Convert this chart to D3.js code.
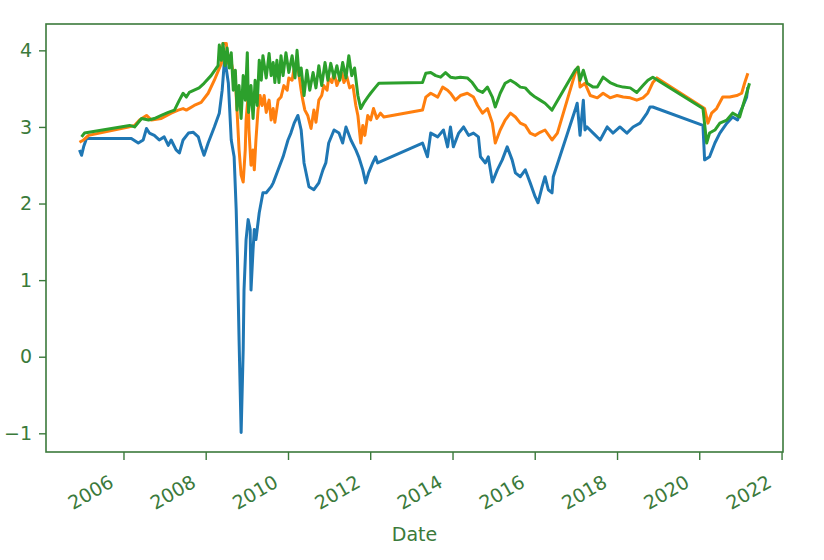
<!DOCTYPE html>
<html>
<head>
<meta charset="utf-8">
<script src="https://cdn.jsdelivr.net/npm/d3@7"></script>
<style>
  body { margin: 0; background: #fff; }
  text { font-family: "DejaVu Sans", sans-serif; }
</style>
</head>
<body>
<div id="chart"></div>
<script>
// values: [decimal year, value]
const blue = [
  [2004.93, 2.70], [2004.98, 2.63], [2005.03, 2.74], [2005.10, 2.85], [2006.19, 2.85],
  [2006.36, 2.79], [2006.48, 2.83], [2006.56, 2.98], [2006.63, 2.92], [2006.75, 2.89],
  [2006.87, 2.83], [2006.99, 2.87], [2007.09, 2.76], [2007.16, 2.83], [2007.28, 2.70],
  [2007.36, 2.66], [2007.45, 2.83], [2007.58, 2.92], [2007.70, 2.93], [2007.82, 2.87],
  [2007.89, 2.74], [2007.96, 2.63], [2008.06, 2.79], [2008.21, 3.00], [2008.33, 3.18],
  [2008.40, 3.48], [2008.45, 3.83], [2008.47, 3.87], [2008.55, 3.57], [2008.62, 2.83],
  [2008.69, 2.61], [2008.74, 1.92], [2008.77, 1.30], [2008.81, 0.22], [2008.86, -0.99],
  [2008.91, 0.09], [2008.93, 0.87], [2008.98, 1.53], [2009.03, 1.79], [2009.08, 1.66],
  [2009.10, 0.87], [2009.15, 1.40], [2009.18, 1.66], [2009.22, 1.53], [2009.30, 1.88],
  [2009.39, 2.14], [2009.47, 2.14], [2009.59, 2.22], [2009.64, 2.27], [2009.76, 2.44],
  [2009.88, 2.61], [2010.00, 2.83], [2010.07, 2.92], [2010.15, 3.05], [2010.24, 3.15],
  [2010.32, 2.96], [2010.39, 2.53], [2010.51, 2.22], [2010.63, 2.18], [2010.75, 2.27],
  [2010.85, 2.44], [2010.92, 2.53], [2010.99, 2.79], [2011.12, 2.96], [2011.24, 2.92],
  [2011.33, 2.79], [2011.41, 3.00], [2011.53, 2.83], [2011.65, 2.70], [2011.72, 2.61],
  [2011.82, 2.44], [2011.89, 2.27], [2011.96, 2.40], [2012.06, 2.53], [2012.13, 2.61],
  [2012.18, 2.53], [2013.27, 2.79], [2013.39, 2.61], [2013.47, 2.92], [2013.64, 2.87],
  [2013.78, 2.96], [2013.88, 2.74], [2013.95, 3.00], [2014.02, 2.74], [2014.15, 2.92],
  [2014.27, 3.00], [2014.39, 2.89], [2014.51, 2.92], [2014.63, 2.87], [2014.68, 2.61],
  [2014.80, 2.53], [2014.87, 2.61], [2014.97, 2.28], [2015.09, 2.44], [2015.21, 2.57],
  [2015.33, 2.74], [2015.45, 2.57], [2015.53, 2.40], [2015.65, 2.35], [2015.77, 2.44],
  [2015.89, 2.27], [2016.01, 2.09], [2016.08, 2.01], [2016.18, 2.22], [2016.25, 2.35],
  [2016.33, 2.18], [2016.42, 2.14], [2016.45, 2.35], [2016.98, 3.22], [2017.03, 3.31],
  [2017.10, 2.89], [2017.18, 3.35], [2017.22, 2.96], [2017.27, 3.00], [2017.42, 2.92],
  [2017.59, 2.83], [2017.76, 3.00], [2017.90, 2.92], [2018.07, 3.00], [2018.24, 2.92],
  [2018.39, 3.00], [2018.56, 3.05], [2018.73, 3.18], [2018.80, 3.26], [2018.87, 3.26],
  [2020.09, 3.02], [2020.13, 2.57], [2020.25, 2.61], [2020.38, 2.79], [2020.50, 2.92],
  [2020.67, 3.05], [2020.81, 3.13], [2020.93, 3.09], [2020.98, 3.18], [2021.05, 3.26],
  [2021.15, 3.39], [2021.18, 3.52]
];

const orange = [
  [2004.93, 2.80], [2005.03, 2.83], [2005.15, 2.89], [2006.12, 3.00], [2006.27, 3.02],
  [2006.39, 3.09], [2006.56, 3.15], [2006.68, 3.09], [2006.92, 3.11], [2007.16, 3.18],
  [2007.33, 3.22], [2007.45, 3.24], [2007.53, 3.22], [2007.72, 3.28], [2007.89, 3.32],
  [2008.06, 3.44], [2008.21, 3.61], [2008.38, 3.83], [2008.42, 4.09], [2008.50, 4.09],
  [2008.55, 3.83], [2008.59, 3.93], [2008.67, 3.70], [2008.72, 3.61], [2008.76, 3.22],
  [2008.81, 2.70], [2008.86, 2.37], [2008.91, 2.28], [2008.96, 2.70], [2008.98, 3.09],
  [2009.03, 3.41], [2009.05, 2.96], [2009.10, 2.50], [2009.15, 2.70], [2009.18, 2.44],
  [2009.22, 2.83], [2009.27, 3.22], [2009.32, 3.41], [2009.37, 3.28], [2009.42, 3.41],
  [2009.47, 3.19], [2009.54, 3.35], [2009.59, 3.09], [2009.64, 3.24], [2009.68, 3.06],
  [2009.76, 3.35], [2009.83, 3.39], [2009.90, 3.54], [2009.98, 3.48], [2010.02, 3.64],
  [2010.10, 3.61], [2010.15, 3.77], [2010.22, 3.83], [2010.27, 3.67], [2010.32, 3.48],
  [2010.36, 3.35], [2010.41, 3.22], [2010.48, 3.15], [2010.56, 2.98], [2010.63, 3.22],
  [2010.68, 3.06], [2010.75, 3.35], [2010.82, 3.41], [2010.87, 3.54], [2010.95, 3.48],
  [2010.99, 3.64], [2011.07, 3.58], [2011.12, 3.71], [2011.19, 3.54], [2011.24, 3.61],
  [2011.31, 3.71], [2011.36, 3.58], [2011.43, 3.66], [2011.50, 3.51], [2011.58, 3.54],
  [2011.65, 3.28], [2011.70, 3.15], [2011.77, 2.79], [2011.82, 3.02], [2011.87, 2.89],
  [2011.94, 3.15], [2012.01, 3.09], [2012.08, 3.24], [2012.16, 3.11], [2012.25, 3.18],
  [2012.33, 3.13], [2013.27, 3.22], [2013.35, 3.39], [2013.47, 3.44], [2013.64, 3.39],
  [2013.76, 3.52], [2013.88, 3.48], [2013.95, 3.44], [2014.07, 3.35], [2014.19, 3.41],
  [2014.36, 3.44], [2014.51, 3.39], [2014.61, 3.28], [2014.73, 3.18], [2014.85, 3.24],
  [2014.97, 3.05], [2015.04, 2.79], [2015.16, 2.96], [2015.28, 3.09], [2015.41, 3.18],
  [2015.53, 3.13], [2015.65, 3.05], [2015.77, 3.02], [2015.89, 2.92], [2016.01, 2.89],
  [2016.13, 2.93], [2016.25, 2.96], [2016.42, 2.83], [2016.55, 2.92], [2016.98, 3.70],
  [2017.05, 3.78], [2017.10, 3.52], [2017.22, 3.57], [2017.35, 3.41], [2017.52, 3.38],
  [2017.66, 3.44], [2017.83, 3.38], [2018.00, 3.41], [2018.15, 3.39], [2018.32, 3.38],
  [2018.48, 3.35], [2018.63, 3.38], [2018.75, 3.44], [2018.87, 3.58], [2018.97, 3.64],
  [2020.13, 3.24], [2020.21, 3.05], [2020.30, 3.18], [2020.42, 3.24], [2020.57, 3.39],
  [2020.74, 3.39], [2020.91, 3.41], [2021.03, 3.44], [2021.10, 3.57], [2021.18, 3.70]
];

const green = [
  [2004.98, 2.87], [2005.05, 2.92], [2006.15, 3.02], [2006.27, 3.00], [2006.44, 3.11],
  [2006.61, 3.09], [2006.75, 3.11], [2006.92, 3.15], [2007.09, 3.19], [2007.24, 3.22],
  [2007.36, 3.35], [2007.45, 3.44], [2007.53, 3.39], [2007.60, 3.45], [2007.72, 3.48],
  [2007.84, 3.51], [2007.96, 3.57], [2008.13, 3.67], [2008.30, 3.80], [2008.33, 4.07],
  [2008.38, 3.87], [2008.42, 4.09], [2008.47, 3.80], [2008.52, 4.03], [2008.57, 3.77],
  [2008.62, 3.97], [2008.67, 3.48], [2008.72, 3.74], [2008.76, 3.22], [2008.81, 3.54],
  [2008.86, 3.11], [2008.91, 3.67], [2008.96, 3.35], [2009.01, 3.97], [2009.04, 3.19],
  [2009.10, 3.54], [2009.15, 3.11], [2009.20, 3.61], [2009.25, 3.28], [2009.30, 3.87],
  [2009.35, 3.61], [2009.39, 3.93], [2009.47, 3.64], [2009.54, 3.96], [2009.59, 3.67],
  [2009.64, 3.84], [2009.68, 3.58], [2009.73, 3.87], [2009.78, 3.58], [2009.83, 3.93],
  [2009.88, 3.67], [2009.95, 3.97], [2010.02, 3.71], [2010.10, 3.93], [2010.17, 3.64],
  [2010.22, 4.00], [2010.27, 3.67], [2010.32, 3.77], [2010.39, 3.41], [2010.46, 3.74],
  [2010.53, 3.48], [2010.61, 3.71], [2010.68, 3.51], [2010.75, 3.80], [2010.82, 3.54],
  [2010.90, 3.84], [2010.97, 3.61], [2011.04, 3.83], [2011.12, 3.64], [2011.19, 3.80],
  [2011.26, 3.61], [2011.33, 3.84], [2011.41, 3.64], [2011.48, 3.93], [2011.55, 3.67],
  [2011.62, 3.77], [2011.70, 3.41], [2011.77, 3.24], [2011.84, 3.31], [2011.94, 3.39],
  [2012.01, 3.44], [2012.13, 3.52], [2012.21, 3.57], [2013.27, 3.58], [2013.35, 3.70],
  [2013.47, 3.71], [2013.59, 3.67], [2013.71, 3.65], [2013.83, 3.71], [2013.95, 3.65],
  [2014.07, 3.64], [2014.19, 3.65], [2014.36, 3.64], [2014.48, 3.58], [2014.61, 3.48],
  [2014.73, 3.45], [2014.85, 3.52], [2014.97, 3.39], [2015.04, 3.26], [2015.16, 3.44],
  [2015.28, 3.57], [2015.41, 3.61], [2015.53, 3.57], [2015.65, 3.52], [2015.77, 3.51],
  [2015.89, 3.44], [2016.01, 3.39], [2016.13, 3.35], [2016.25, 3.31], [2016.42, 3.22],
  [2016.98, 3.74], [2017.05, 3.78], [2017.10, 3.61], [2017.18, 3.74], [2017.27, 3.57],
  [2017.42, 3.52], [2017.52, 3.52], [2017.66, 3.65], [2017.83, 3.58], [2018.00, 3.54],
  [2018.15, 3.52], [2018.32, 3.51], [2018.48, 3.45], [2018.63, 3.54], [2018.75, 3.61],
  [2018.87, 3.65], [2020.09, 3.24], [2020.18, 2.79], [2020.25, 2.92], [2020.38, 2.96],
  [2020.50, 3.05], [2020.67, 3.09], [2020.81, 3.18], [2020.98, 3.13], [2021.05, 3.26],
  [2021.15, 3.44], [2021.22, 3.57]
];

const seriesList = [blue, orange, green];
const seriesColors = ["#1f77b4", "#ff7f0e", "#2ca02c"];
const yTicks = [-1, 0, 1, 2, 3, 4];
const xLabel = "Date";

const W = 824, H = 560;
const margin = { top: 24, right: 41, bottom: 108, left: 46 };
const width = W - margin.left - margin.right,
  height = H - margin.top - margin.bottom;
const axisColor = "#3b7a3b";

function toDate(y) {
  const Y = Math.floor(y);
  const a = new Date(Y, 0, 1), b = new Date(Y + 1, 0, 1);
  return new Date(+a + (y - Y) * (b - a));
}

const data = seriesList.map((s) => s.map(([t, v]) => ({ date: toDate(t), value: v })));
const all = data.flat();

// matplotlib style 5% margins
const tExt = d3.extent(all, (d) => +d.date);
const vExt = d3.extent(all, (d) => d.value);
const tPad = (tExt[1] - tExt[0]) * 0.05, vPad = (vExt[1] - vExt[0]) * 0.05;

const x = d3.scaleTime()
  .domain([new Date(tExt[0] - tPad), new Date(tExt[1] + tPad)])
  .range([0, width]);
const y = d3.scaleLinear()
  .domain([vExt[0] - vPad, vExt[1] + vPad])
  .range([height, 0]);

const svg = d3.select("#chart").append("svg")
  .attr("width", W)
  .attr("height", H);

const g = svg.append("g")
  .attr("transform", `translate(${margin.left},${margin.top})`);

const line = d3.line()
  .x((d) => x(d.date))
  .y((d) => y(d.value));

g.selectAll(".series")
  .data(data)
  .join("path")
  .attr("class", "series")
  .attr("fill", "none")
  .attr("stroke", (d, i) => seriesColors[i])
  .attr("stroke-width", 3)
  .attr("stroke-linejoin", "round")
  .attr("d", line);

// frame
g.append("rect")
  .attr("width", width)
  .attr("height", height)
  .attr("fill", "none")
  .attr("stroke", axisColor)
  .attr("stroke-width", 1.6);

// y axis
const yAxis = g.append("g")
  .call(d3.axisLeft(y).tickValues(yTicks).tickSize(7).tickPadding(7)
    .tickFormat((d) => (d < 0 ? "\u2212" + Math.abs(d) : d)));
yAxis.select(".domain").remove();
yAxis.selectAll("line").attr("stroke", axisColor).attr("stroke-width", 1.4);
yAxis.selectAll("text")
  .attr("fill", axisColor)
  .style("font-size", "19px");

// x axis
const xAxis = g.append("g")
  .attr("transform", `translate(0,${height})`)
  .call(d3.axisBottom(x).ticks(d3.timeYear.every(2)).tickSize(8)
    .tickFormat(d3.timeFormat("%Y")));
xAxis.select(".domain").remove();
xAxis.selectAll("line").attr("stroke", axisColor).attr("stroke-width", 1.4);
xAxis.selectAll("text")
  .attr("fill", axisColor)
  .style("font-size", "19px")
  .attr("text-anchor", "end")
  .attr("y", 0)
  .attr("dy", 0)
  .attr("transform", "translate(-9,34) rotate(-30)");

svg.append("text")
  .attr("x", margin.left + width / 2)
  .attr("y", 541)
  .attr("text-anchor", "middle")
  .attr("fill", axisColor)
  .style("font-size", "19px")
  .text(xLabel);
</script>
</body>
</html>
